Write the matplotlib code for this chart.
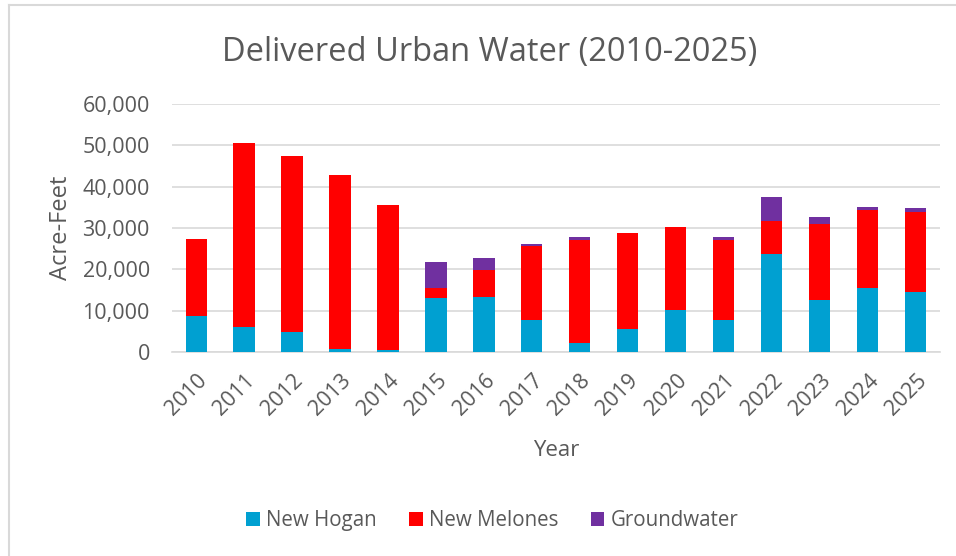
import matplotlib
matplotlib.use("Agg")
import matplotlib.pyplot as plt
from matplotlib.lines import Line2D
from matplotlib.ticker import FuncFormatter
import numpy as np

years = [str(y) for y in range(2010, 2026)]
new_hogan = [8700, 6000, 4800, 800, 400, 13000, 13200, 7700, 2100, 5500, 10200, 7700, 23800, 12500, 15500, 14600]
new_melones = [18600, 44600, 42600, 42000, 35200, 2400, 6600, 17900, 25100, 23300, 20000, 19500, 7800, 18500, 18900, 19300]
groundwater = [0, 0, 0, 0, 0, 6400, 3000, 500, 700, 0, 0, 500, 5900, 1700, 700, 900]

series_names = ["New Hogan", "New Melones", "Groundwater"]
colores = ["#00A0D1", "#FF0000", "#7030A0"]

plt.rcParams['font.family'] = ['Open Sans', 'DejaVu Sans']
texto = "#595959"

fig = plt.figure(figsize=(9.56, 5.56), dpi=100)
ax = fig.add_axes([0.18, 0.367, 0.803, 0.446])

x = np.arange(len(years))
ancho = 0.44
base = np.zeros(len(years))
for valores, nombre, color in zip([new_hogan, new_melones, groundwater], series_names, colores):
    ax.bar(x, valores, ancho, bottom=base, color=color, label=nombre, zorder=3)
    base += np.array(valores)

ax.set_xlim(-0.5, len(years) - 0.5)
ax.set_ylim(0, 60000)
ax.set_yticks(range(0, 60001, 10000))
ax.yaxis.set_major_formatter(FuncFormatter(lambda v, p: f"{int(v):,}"))
ax.set_xticks(x)
ax.set_xticklabels(years, rotation=45, ha="right", rotation_mode="anchor")

ax.grid(axis="y", color="#D9D9D9", linewidth=1.2, zorder=0)
for lado in ["top", "right", "left"]:
    ax.spines[lado].set_visible(False)
ax.spines["bottom"].set_color("#D9D9D9")
ax.spines["bottom"].set_linewidth(1.2)
ax.tick_params(axis="both", length=0, labelsize=15.5, colors=texto)
ax.tick_params(axis="y", pad=16)
ax.tick_params(axis="x", pad=13)

ax.set_ylabel("Acre-Feet", fontsize=17, color=texto, labelpad=7)
ax.set_xlabel("Year", fontsize=16, color=texto, labelpad=15)
fig.text(0.5126, 0.906, "Delivered Urban Water (2010-2025)", ha="center", va="center",
         fontsize=23.5, color=texto)

ax.legend(loc="center", bbox_to_anchor=(0.515, 0.064), bbox_transform=fig.transFigure,
          ncol=3, frameon=False, fontsize=14.8, labelcolor=texto,
          handlelength=0.65, handleheight=0.65, handletextpad=0.3, columnspacing=1.6)

# borde del grafico (solo arriba e izquierda visibles)
fig.add_artist(Line2D([0.009, 0.009], [0, 0.991], transform=fig.transFigure, color="#D9D9D9", lw=1.5))
fig.add_artist(Line2D([0.009, 1], [0.991, 0.991], transform=fig.transFigure, color="#D9D9D9", lw=1.5))

fig.savefig("out.png", dpi=100, facecolor="white")
